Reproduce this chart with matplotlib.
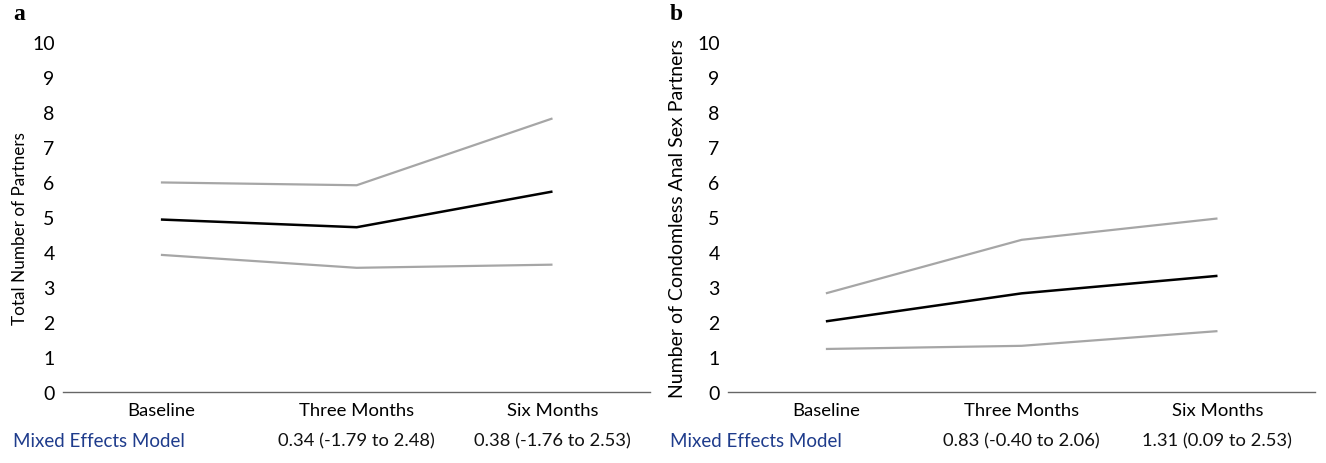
import matplotlib
matplotlib.use("Agg")
import matplotlib.pyplot as plt
from matplotlib.transforms import blended_transform_factory

plt.rcParams["font.family"] = ["Lato", "DejaVu Sans"]

categories = ["Baseline", "Three Months", "Six Months"]

# panel a: total number of partners
a_upper = [5.99, 5.91, 7.82]
a_mean = [4.93, 4.71, 5.73]
a_lower = [3.92, 3.55, 3.64]
a_model = ["", "0.34 (-1.79 to 2.48)", "0.38 (-1.76 to 2.53)"]

# panel b: condomless anal sex partners
b_upper = [2.82, 4.35, 4.96]
b_mean = [2.02, 2.82, 3.32]
b_lower = [1.23, 1.32, 1.74]
b_model = ["", "0.83 (-0.40 to 2.06)", "1.31 (0.09 to 2.53)"]

yticks = list(range(0, 11))

GREY = "#a6a6a6"
BLUE = "#1f3c8c"

fig = plt.figure(figsize=(13.26, 4.64), dpi=100)

panels = [
    ("a", [0.0475, 0.153, 0.443, 0.754], a_upper, a_mean, a_lower, a_model,
     "Total Number of Partners", 12.3, -0.06, 0.47, 0.010),
    ("b", [0.549, 0.153, 0.443, 0.754], b_upper, b_mean, b_lower, b_model,
     "Number of Condomless Anal Sex Partners", 14, -0.072, 0.5, 0.505),
]

for letter, rect, up, mid, lo, model, ylab, ylsize, ylx, yly, lx in panels:
    ax = fig.add_axes(rect)
    x = range(len(categories))
    ax.plot(x, up, color=GREY, lw=1.6, solid_capstyle="butt")
    ax.plot(x, lo, color=GREY, lw=1.6, solid_capstyle="butt")
    ax.plot(x, mid, color="black", lw=1.8, solid_capstyle="butt")
    ax.set_xlim(-0.5, 2.5)
    ax.set_ylim(0, 10)
    ax.set_yticks(yticks)
    ax.set_xticks(list(x))
    ax.set_xticklabels(categories, fontsize=13.3)
    ax.tick_params(axis="y", length=0, pad=6, labelsize=14)
    ax.tick_params(axis="x", length=0, pad=7)
    for s in ["top", "right", "left"]:
        ax.spines[s].set_visible(False)
    ax.spines["bottom"].set_color("#666666")
    ax.spines["bottom"].set_linewidth(1.0)
    ax.set_ylabel(ylab, fontsize=ylsize)
    ax.yaxis.set_label_coords(ylx, yly)

    fig.text(lx, 0.968, letter, fontsize=17, fontweight="bold",
             family="Liberation Serif", va="center", ha="left")
    fig.text(lx, 0.049, "Mixed Effects Model", fontsize=13.5, color=BLUE,
             va="center", ha="left")
    tr = blended_transform_factory(ax.transData, fig.transFigure)
    for i, s in enumerate(model):
        if s:
            ax.text(i, 0.049, s, transform=tr, fontsize=13.2, ha="center",
                    va="center", color="#111111")

fig.savefig("out.png", dpi=100)
